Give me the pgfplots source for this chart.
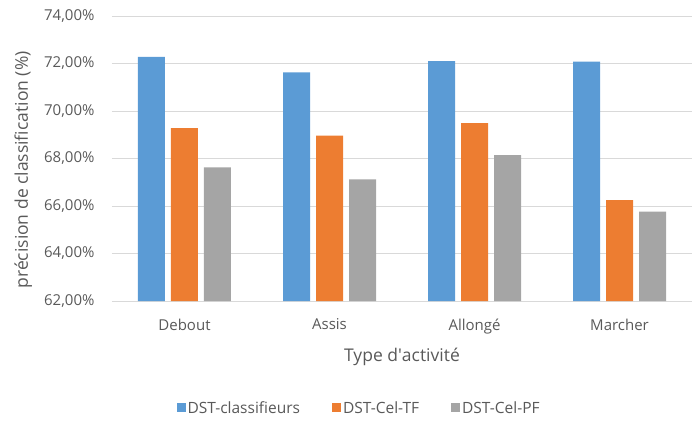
\documentclass[border=0pt]{standalone}
\usepackage{pgfplots}
\pgfplotsset{compat=1.18}
\usepackage{fontspec}
\setmainfont{Open Sans}
\definecolor{cblue}{HTML}{5B9BD5}
\definecolor{corange}{HTML}{ED7D31}
\definecolor{cgray}{HTML}{A5A5A5}
\definecolor{gridc}{HTML}{D9D9D9}
\definecolor{txt}{HTML}{595959}
\begin{document}
\begin{tikzpicture}
\begin{axis}[
  scale only axis, width=580pt, height=285pt,
  ymin=62, ymax=74, ytick={62,64,...,74},
  xmin=-0.5, xmax=3.5, xtick=data,
  xticklabels={Debout,Assis,Allongé,Marcher},
  ybar=6pt, bar width=27pt,
  axis line style={draw=none},
  tick style={draw=none},
  ymajorgrids, xmajorgrids=false, grid style={draw=gridc, line width=0.9pt},
  /pgf/number format/assume math mode=true,
  yticklabel={\pgfmathprintnumber[fixed,fixed zerofill,precision=2,use comma]{\tick}\%},
  ticklabel style={font=\fontsize{15}{17}\selectfont, text=txt},
  yticklabel style={xshift=-14pt},
  xticklabel style={yshift=-10pt},
  ylabel={précision de classification (\%)},
  xlabel={Type d\textquotesingle activité},
  label style={font=\fontsize{17.5}{19}\selectfont, text=txt},
  ylabel style={at={(-0.153,0.46)}, anchor=center},
  xlabel style={at={(0.5,-0.196)}, anchor=center},
  legend style={at={(0.426,-0.375)}, anchor=center, draw=none, legend columns=-1,
    font=\fontsize{15.5}{17}\selectfont, text=txt,
    /tikz/every even column/.append style={column sep=30pt}},
  legend image code/.code={\fill[#1] (0pt,-4.5pt) rectangle (9pt,4.5pt);},
]
\addplot[fill=cblue, draw=none] coordinates {(0,72.28) (1,71.63) (2,72.10) (3,72.08)};
\addplot[fill=corange, draw=none] coordinates {(0,69.28) (1,68.96) (2,69.49) (3,66.25)};
\addplot[fill=cgray, draw=none] coordinates {(0,67.63) (1,67.12) (2,68.14) (3,65.76)};
\legend{DST-classifieurs, DST-Cel-TF, DST-Cel-PF}
\end{axis}
\pgfresetboundingbox
\path[use as bounding box] ([xshift=-112pt,yshift=-120pt]current axis.south west) rectangle ([xshift=4pt,yshift=16pt]current axis.north east);
\end{tikzpicture}
\end{document}
